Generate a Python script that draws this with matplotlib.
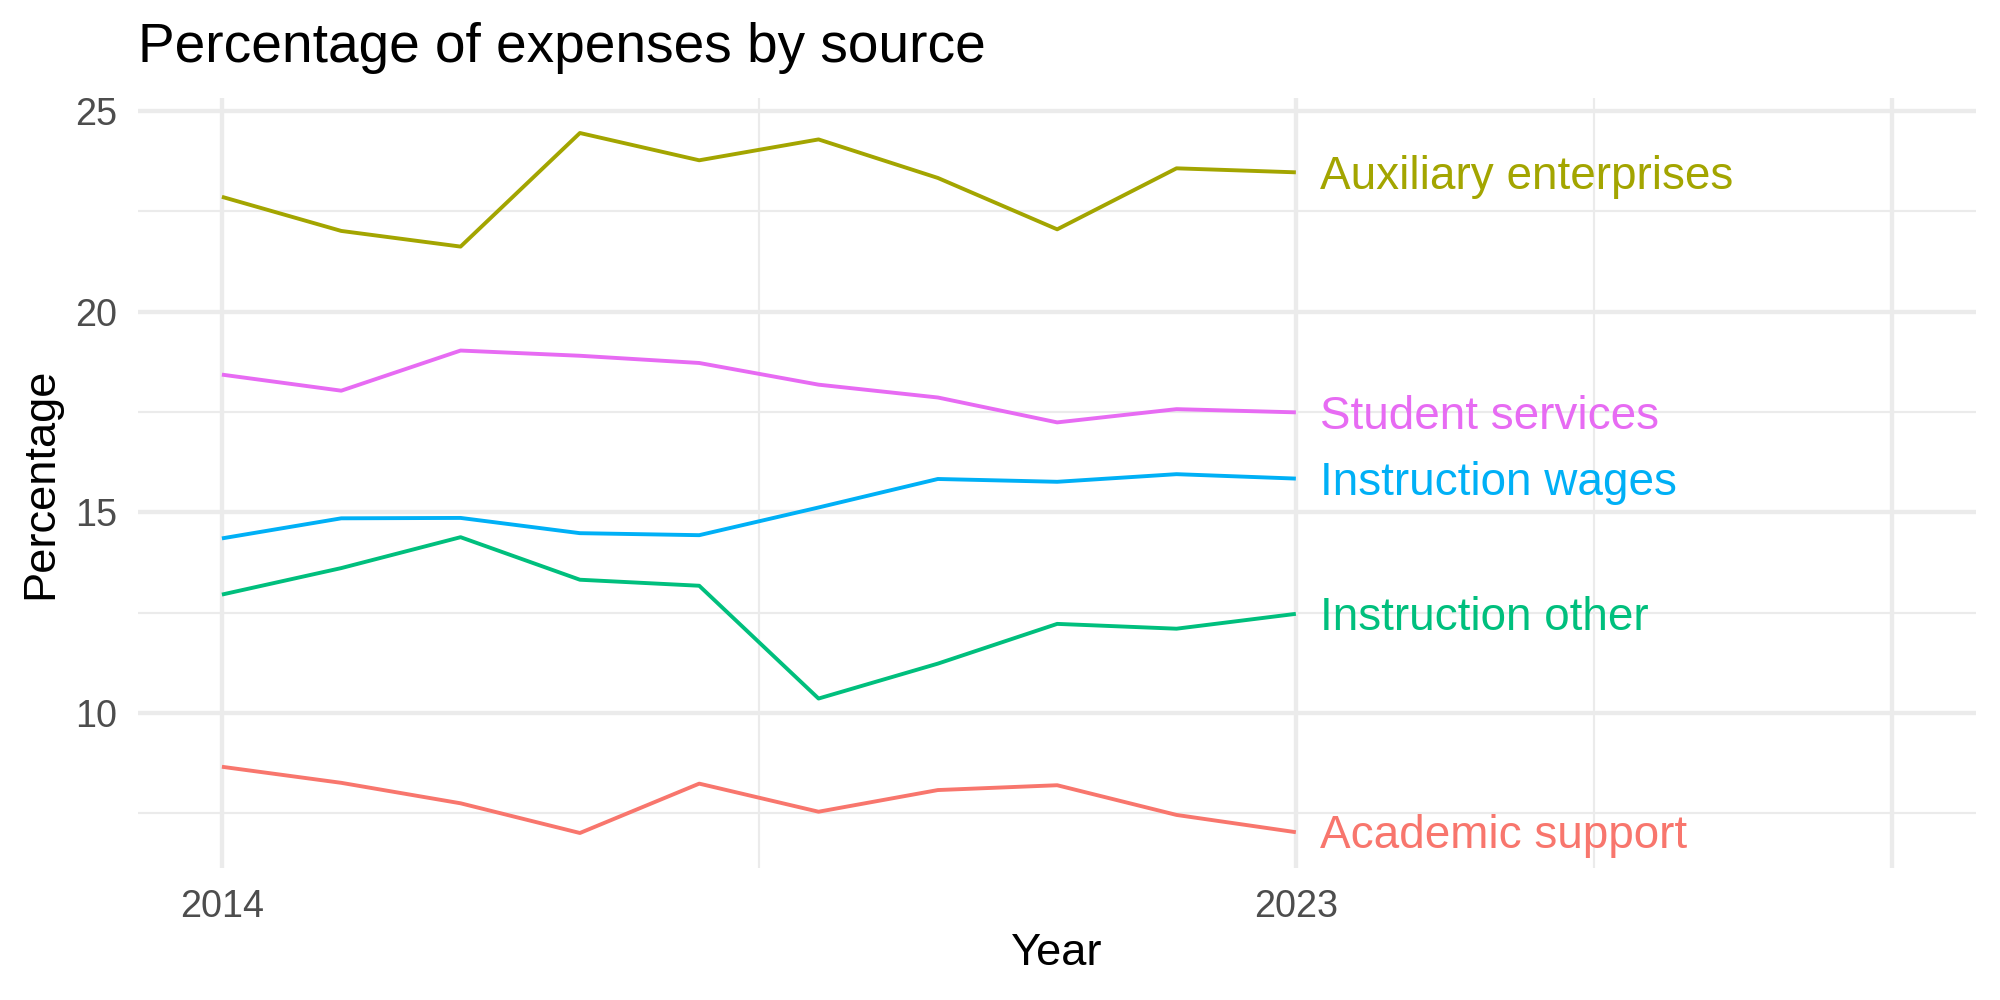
import matplotlib.pyplot as plt
import matplotlib.transforms as mtransforms
import numpy as np

plt.rcParams['font.family'] = ['Liberation Sans', 'DejaVu Sans']

years = list(range(2014, 2024))
sources = ['Academic support', 'Auxiliary enterprises', 'Instruction other',
           'Instruction wages', 'Student services']
academic_support = [8.66, 8.26, 7.75, 7.01, 8.24, 7.54, 8.08, 8.20, 7.46, 7.03]
auxiliary = [22.86, 22.01, 21.62, 24.45, 23.77, 24.29, 23.33, 22.05, 23.57, 23.47]
instruction_other = [12.95, 13.61, 14.38, 13.32, 13.17, 10.36, 11.23, 12.22, 12.10, 12.47]
instruction_wages = [14.35, 14.85, 14.86, 14.48, 14.43, 15.12, 15.83, 15.76, 15.95, 15.84]
student_services = [18.43, 18.03, 19.03, 18.90, 18.72, 18.18, 17.86, 17.24, 17.57, 17.49]
series = [academic_support, auxiliary, instruction_other, instruction_wages, student_services]

colors = ['#F8766D', '#A3A500', '#00BF7D', '#00B0F6', '#E76BF3']

x_breaks = [2014, 2023, 2028]
x_labels = ['2014', '2023', '']
y_breaks = [10, 15, 20, 25]

fig = plt.figure(figsize=(10, 5), dpi=200)
ax = fig.add_axes([0.0692, 0.132, 0.9188, 0.770])

# labels sit a touch lower than matplotlib's 'center'
lab_trans = mtransforms.offset_copy(ax.transData, fig=fig, x=0, y=-1.5, units='points')

for name, vals, col in zip(sources, series, colors):
    ax.plot(years, vals, color=col, lw=1.4, solid_capstyle='butt', zorder=3)
    ax.text(years[-1] + 0.2, vals[-1], name, color=col, fontsize=16.5,
            ha='left', va='center', zorder=4, transform=lab_trans)

xmin, xmax = 2014, 2028
allv = np.concatenate([np.array(s) for s in series])
ymin, ymax = allv.min(), allv.max()
ax.set_xlim(xmin - 0.05 * (xmax - xmin), xmax + 0.05 * (xmax - xmin))
ax.set_ylim(ymin - 0.05 * (ymax - ymin), ymax + 0.05 * (ymax - ymin))

ax.set_xticks(x_breaks)
ax.set_xticklabels(x_labels)
ax.set_xticks([2018.5, 2025.5], minor=True)
ax.set_yticks(y_breaks)
ax.set_yticks([7.5, 12.5, 17.5, 22.5], minor=True)

for s in ax.spines.values():
    s.set_visible(False)
ax.grid(which='major', color='#EBEBEB', lw=1.55, zorder=0)
ax.grid(which='minor', color='#EBEBEB', lw=0.78, zorder=0)
ax.set_axisbelow(True)
ax.tick_params(which='both', length=0, labelsize=13.6, labelcolor='#4D4D4D')
ax.tick_params(axis='x', pad=7.5)
ax.tick_params(axis='y', pad=7.5)

fig.text(0.0692, 0.938, 'Percentage of expenses by source', fontsize=19.8,
         ha='left', va='baseline')
fig.text(0.5285, 0.035, 'Year', fontsize=16.3, ha='center', va='baseline')
fig.text(0.0205, 0.517, 'Percentage', fontsize=16.3, ha='center', va='center',
         rotation=90)

fig.savefig('out.png', dpi=200)
